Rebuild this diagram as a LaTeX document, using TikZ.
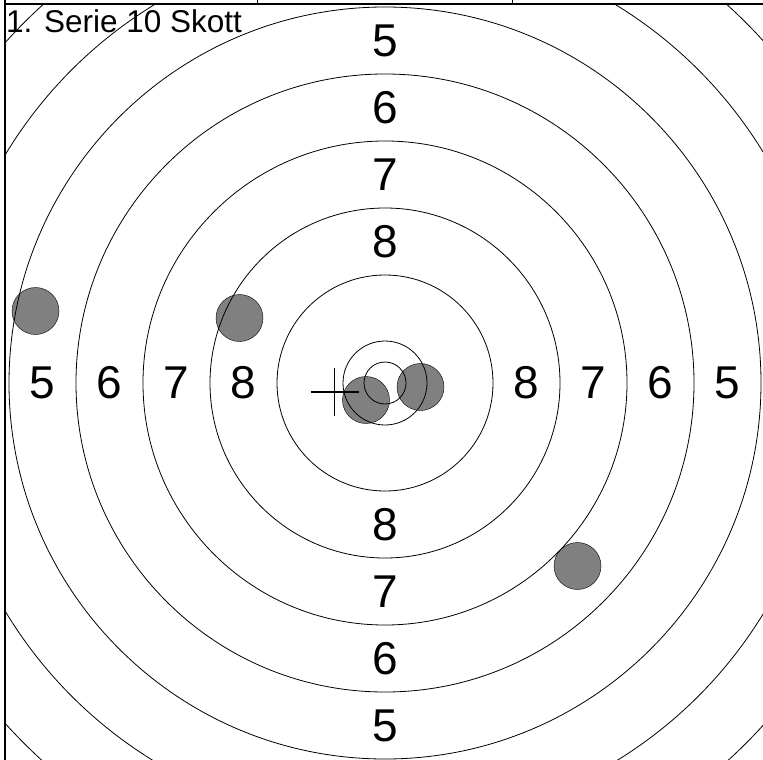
\documentclass[tikz,border=0pt]{standalone}
\usepackage{fontspec}
\setmainfont{Liberation Sans}
\begin{document}
\begin{tikzpicture}[x=1pt, y=-1pt,
    shot/.style={draw=black, fill=gray, circle, minimum size=47pt, inner sep=0pt},
    ringnum/.style={font=\fontsize{46}{46}\selectfont, inner sep=0pt}]
    \useasboundingbox (0,0) rectangle (763,760);
    \coordinate (O) at (385,383);
    \coordinate (C) at (334.5,392);

    \begin{scope}
    \clip (6,5) rectangle (763,760);
    \node[shot] (S1) at (35.5,311) {};
    \node[shot] (S2) at (239.5,318) {};
    \node[shot] (S3) at (366,400) {};
    \node[shot] (S4) at (420.5,387) {};
    \node[shot] (S5) at (577.5,566) {};

    \foreach \r in {21,42,108,175,242,309,376,443,510}
        \draw[line width=0.8pt] (O) circle (\r pt);
    \end{scope}

    \foreach \n/\d in {5/342.5, 6/275.5, 7/208.5, 8/141.5} {
        \node[ringnum] (T\n) at ([yshift=\d pt]O) {\n};
        \node[ringnum] (B\n) at ([yshift=-\d pt]O) {\n};
        \node[ringnum] (L\n) at ([xshift=-\d pt]O) {\n};
        \node[ringnum] (R\n) at ([xshift=\d pt]O) {\n};
    }

    \node[anchor=base west, inner sep=0pt, font=\fontsize{31.5}{31.5}\selectfont] (title) at (6,33) {1. Serie 10 Skott};

    % aim point
    \draw[line width=1.8pt] (C) +(-24,0) -- +(24,0) (C) +(0,-24) -- +(0,24);

    % frame
    \draw[line width=1.5pt] (5,0) -- (5,760);
    \draw[line width=1.5pt] (5,4) -- (763,4);
    \draw (257,0) -- (257,4);
    \draw (512,0) -- (512,4);
\end{tikzpicture}
\end{document}
